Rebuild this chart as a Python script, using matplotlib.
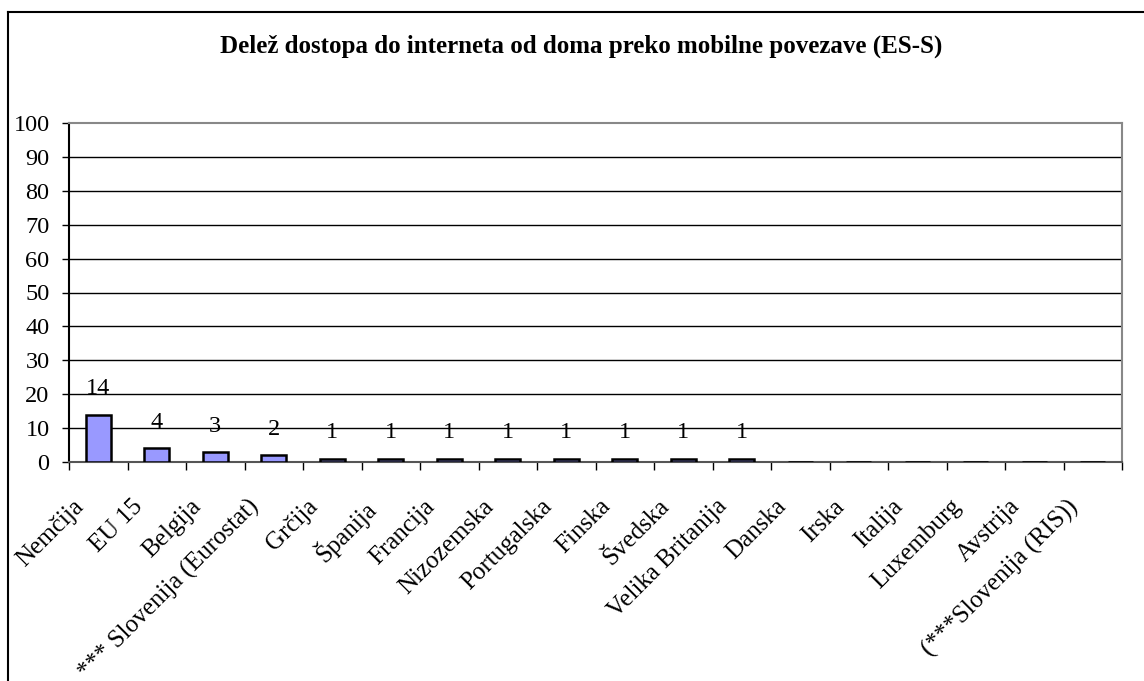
import matplotlib
matplotlib.use("Agg")
import matplotlib.pyplot as plt
from matplotlib.transforms import ScaledTranslation
from matplotlib.lines import Line2D

categories = ["Nemčija", "EU 15", "Belgija", "*** Slovenija (Eurostat)", "Grčija",
              "Španija", "Francija", "Nizozemska", "Portugalska", "Finska",
              "Švedska", "Velika Britanija", "Danska", "Irska", "Italija",
              "Luxemburg", "Avstrija", "(***Slovenija (RIS))"]
values = [14, 4, 3, 2, 1, 1, 1, 1, 1, 1, 1, 1, 0, 0, 0, 0, 0, 0]
title = "Delež dostopa do interneta od doma preko mobilne povezave (ES-S)"

plt.rcParams['font.family'] = ['Liberation Serif', 'DejaVu Serif']

fig = plt.figure(figsize=(11.44, 6.81), dpi=100)
ax = fig.add_axes([69/1144, 219/681, 1053/1144, 339/681])

x = list(range(len(categories)))
bars = ax.bar(x, values, width=0.42, color="#9999FF", edgecolor="black", linewidth=1.8, zorder=3)
for xi, v in zip(x, values):
    if v > 0:
        ax.annotate(str(v), (xi, v), xytext=(0, 11), textcoords="offset points",
                    ha="center", va="bottom", fontsize=17.5, zorder=4)

ax.set_xlim(-0.5, len(categories) - 0.5)
ax.set_ylim(0, 100)
ax.set_yticks(range(0, 101, 10))
ax.tick_params(axis="y", labelsize=17.5, direction="out", length=5, width=1, pad=9)
for yv in range(10, 100, 10):
    ax.axhline(yv, color="black", linewidth=1, zorder=1)

ax.set_xticks(x)
ax.set_xticklabels(categories, rotation=45, ha="right", va="top", fontsize=18)
ax.tick_params(axis="x", which="major", length=0, pad=24)
ax.set_xticks([i - 0.5 for i in range(len(categories) + 1)], minor=True)
ax.tick_params(axis="x", which="minor", direction="out", length=6, width=1)
for lbl in ax.get_xticklabels():
    lbl.set_transform(lbl.get_transform() + ScaledTranslation(-10/100, 0, fig.dpi_scale_trans))

ax.spines["left"].set_color("black")
ax.spines["bottom"].set_color("#555555")
ax.spines["top"].set_color("#888888")
ax.spines["right"].set_color("#888888")
for s in ax.spines.values():
    s.set_linewidth(1.5)

fig.text(581/1144, 1 - 46/681, title, ha="center", va="center", fontsize=18, fontweight="bold")

# outer frame (top and left edges visible)
fig.add_artist(Line2D([8/1144, 8/1144], [0, 1 - 12/681], transform=fig.transFigure, color="black", linewidth=1.5))
fig.add_artist(Line2D([8/1144, 1], [1 - 12/681, 1 - 12/681], transform=fig.transFigure, color="black", linewidth=1.5))

fig.savefig("out.png", dpi=100)
